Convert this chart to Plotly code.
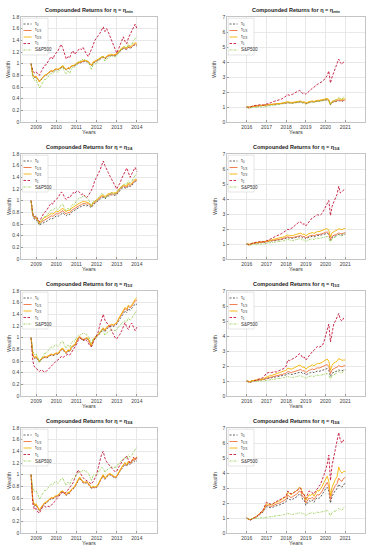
import pandas as pd
import plotly.graph_objects as go

# ---------------- dates ----------------
dates_left = pd.date_range("2008-10-01", "2014-01-01", freq="MS")   # 64 monthly points
dates_right = pd.date_range("2016-01-01", "2021-01-01", freq="MS")  # 61 monthly points

series_names = ["τ<sub>0</sub>", "τ<sub>1/3</sub>", "τ<sub>2/3</sub>", "τ<sub>1</sub>", "S&P500"]
panel_titles = ["min", "1/4", "1/2", "3/4"]
years_left = [2009, 2010, 2011, 2012, 2013, 2014]
years_right = [2016, 2017, 2018, 2019, 2020, 2021]

# ---------------- S&P500 benchmark ----------------
sp_left = [1.00, 0.77, 0.71, 0.72,
           0.66, 0.58, 0.63, 0.69, 0.73, 0.73, 0.78, 0.81, 0.84, 0.82, 0.87, 0.88,
           0.85, 0.88, 0.93, 0.94, 0.86, 0.82, 0.87, 0.83, 0.91, 0.94, 0.94, 1.00,
           1.02, 1.05, 1.05, 1.08, 1.07, 1.05, 1.03, 0.97, 0.90, 0.99, 0.99, 1.00,
           1.04, 1.08, 1.12, 1.11, 1.04, 1.08, 1.09, 1.12, 1.14, 1.12, 1.12, 1.13,
           1.19, 1.20, 1.25, 1.27, 1.29, 1.27, 1.34, 1.30, 1.33, 1.39, 1.43, 1.47]
sp_right = [1.00,
            0.90, 0.90, 0.96, 0.96, 0.98, 0.98, 1.01, 1.01, 1.01, 0.99, 1.02, 1.04,
            1.06, 1.10, 1.10, 1.11, 1.12, 1.13, 1.15, 1.15, 1.17, 1.20, 1.23, 1.25,
            1.32, 1.26, 1.23, 1.23, 1.26, 1.27, 1.31, 1.35, 1.36, 1.26, 1.29, 1.17,
            1.26, 1.30, 1.32, 1.37, 1.28, 1.37, 1.39, 1.36, 1.39, 1.42, 1.46, 1.51,
            1.50, 1.38, 1.12, 1.36, 1.42, 1.44, 1.52, 1.63, 1.57, 1.52, 1.69, 1.75]

# ---------------- left column (2008-2014) ----------------
# eta = eta_min
t0_min_L = [1.00, 0.80, 0.76, 0.77,
            0.73, 0.69, 0.72, 0.76, 0.79, 0.80, 0.83, 0.85, 0.87, 0.86, 0.89, 0.90,
            0.89, 0.91, 0.94, 0.95, 0.91, 0.89, 0.92, 0.91, 0.95, 0.96, 0.96, 0.99,
            1.00, 1.02, 1.02, 1.04, 1.04, 1.03, 1.03, 0.99, 0.96, 1.01, 1.02, 1.04,
            1.06, 1.08, 1.10, 1.11, 1.08, 1.11, 1.13, 1.13, 1.14, 1.13, 1.14, 1.15,
            1.19, 1.21, 1.24, 1.26, 1.25, 1.24, 1.28, 1.26, 1.28, 1.31, 1.32, 1.30]
t13_min_L = [1.00, 0.81, 0.77, 0.78,
             0.74, 0.70, 0.73, 0.77, 0.80, 0.81, 0.84, 0.86, 0.88, 0.87, 0.90, 0.91,
             0.90, 0.92, 0.95, 0.96, 0.92, 0.90, 0.93, 0.92, 0.96, 0.97, 0.97, 1.00,
             1.01, 1.03, 1.03, 1.05, 1.05, 1.04, 1.04, 1.00, 0.97, 1.02, 1.03, 1.05,
             1.07, 1.09, 1.11, 1.12, 1.09, 1.12, 1.14, 1.14, 1.15, 1.14, 1.15, 1.16,
             1.20, 1.22, 1.25, 1.27, 1.26, 1.25, 1.29, 1.27, 1.29, 1.32, 1.34, 1.32]
t23_min_L = [1.00, 0.80, 0.77, 0.78,
             0.73, 0.69, 0.73, 0.77, 0.80, 0.81, 0.84, 0.86, 0.88, 0.87, 0.90, 0.91,
             0.90, 0.92, 0.95, 0.97, 0.92, 0.90, 0.93, 0.92, 0.96, 0.97, 0.98, 1.01,
             1.02, 1.04, 1.04, 1.06, 1.06, 1.05, 1.04, 1.00, 0.97, 1.03, 1.04, 1.06,
             1.08, 1.10, 1.12, 1.13, 1.10, 1.13, 1.15, 1.15, 1.16, 1.15, 1.16, 1.17,
             1.21, 1.23, 1.27, 1.29, 1.28, 1.27, 1.31, 1.29, 1.31, 1.34, 1.36, 1.34]
t1_min_L = [1.00, 0.88, 0.84, 0.86,
            0.82, 0.80, 0.86, 0.92, 0.97, 0.98, 1.04, 1.08, 1.12, 1.08, 1.15, 1.18,
            1.22, 1.28, 1.33, 1.26, 1.15, 1.08, 1.12, 1.10, 1.18, 1.22, 1.16, 1.20,
            1.22, 1.26, 1.24, 1.28, 1.22, 1.16, 1.12, 1.18, 1.24, 1.32, 1.40, 1.45,
            1.48, 1.52, 1.58, 1.63, 1.55, 1.60, 1.54, 1.46, 1.38, 1.30, 1.24, 1.18,
            1.25, 1.32, 1.40, 1.46, 1.38, 1.34, 1.44, 1.50, 1.56, 1.62, 1.68, 1.60]

# eta = eta_1/4
t0_q1_L = [1.00, 0.74, 0.68, 0.68,
           0.63, 0.58, 0.60, 0.62, 0.63, 0.64, 0.66, 0.68, 0.70, 0.69, 0.72, 0.74,
           0.73, 0.75, 0.78, 0.79, 0.76, 0.74, 0.77, 0.76, 0.80, 0.82, 0.83, 0.86,
           0.87, 0.89, 0.90, 0.92, 0.92, 0.91, 0.92, 0.90, 0.88, 0.93, 0.95, 0.98,
           1.00, 1.02, 1.05, 1.06, 1.03, 1.06, 1.08, 1.08, 1.10, 1.09, 1.10, 1.10,
           1.15, 1.17, 1.21, 1.23, 1.22, 1.21, 1.26, 1.24, 1.26, 1.30, 1.33, 1.32]
t13_q1_L = [1.00, 0.75, 0.70, 0.70,
            0.65, 0.60, 0.63, 0.65, 0.67, 0.68, 0.70, 0.72, 0.74, 0.73, 0.76, 0.78,
            0.77, 0.79, 0.82, 0.83, 0.79, 0.77, 0.80, 0.79, 0.83, 0.85, 0.86, 0.89,
            0.90, 0.92, 0.93, 0.95, 0.95, 0.94, 0.95, 0.92, 0.90, 0.95, 0.97, 1.00,
            1.02, 1.04, 1.07, 1.08, 1.05, 1.08, 1.10, 1.10, 1.12, 1.11, 1.12, 1.12,
            1.17, 1.19, 1.23, 1.25, 1.24, 1.23, 1.28, 1.26, 1.28, 1.32, 1.35, 1.34]
t23_q1_L = [1.00, 0.76, 0.72, 0.72,
            0.67, 0.62, 0.66, 0.69, 0.71, 0.72, 0.74, 0.76, 0.78, 0.77, 0.80, 0.82,
            0.81, 0.83, 0.86, 0.87, 0.83, 0.81, 0.84, 0.83, 0.87, 0.89, 0.90, 0.93,
            0.94, 0.96, 0.97, 0.99, 0.98, 0.97, 0.97, 0.94, 0.92, 0.97, 0.99, 1.02,
            1.04, 1.06, 1.09, 1.10, 1.07, 1.10, 1.12, 1.12, 1.14, 1.13, 1.14, 1.14,
            1.19, 1.21, 1.25, 1.27, 1.26, 1.25, 1.30, 1.28, 1.30, 1.34, 1.37, 1.36]
t1_q1_L = [1.00, 0.78, 0.72, 0.74,
           0.68, 0.64, 0.70, 0.76, 0.80, 0.82, 0.88, 0.92, 0.96, 0.94, 1.00, 1.02,
           1.05, 1.10, 1.15, 1.12, 1.05, 1.02, 1.06, 1.05, 1.10, 1.14, 1.12, 1.16,
           1.16, 1.14, 1.10, 1.12, 1.08, 1.05, 1.08, 1.12, 1.18, 1.25, 1.35, 1.40,
           1.45, 1.52, 1.60, 1.68, 1.60, 1.55, 1.48, 1.42, 1.36, 1.30, 1.24, 1.20,
           1.26, 1.30, 1.38, 1.45, 1.50, 1.56, 1.48, 1.40, 1.46, 1.52, 1.57, 1.50]

# eta = eta_1/2
t0_q2_L = [1.00, 0.70, 0.64, 0.66,
           0.62, 0.58, 0.62, 0.64, 0.66, 0.65, 0.67, 0.68, 0.70, 0.69, 0.71, 0.72,
           0.71, 0.74, 0.79, 0.80, 0.75, 0.73, 0.77, 0.76, 0.82, 0.85, 0.86, 0.92,
           0.98, 1.00, 0.97, 0.95, 0.96, 0.98, 0.97, 0.90, 0.84, 0.94, 0.98, 1.02,
           1.04, 1.07, 1.12, 1.14, 1.10, 1.15, 1.17, 1.18, 1.20, 1.19, 1.21, 1.23,
           1.28, 1.32, 1.38, 1.42, 1.46, 1.43, 1.50, 1.47, 1.50, 1.54, 1.58, 1.57]
t13_q2_L = [1.00, 0.71, 0.65, 0.67,
            0.63, 0.59, 0.63, 0.65, 0.67, 0.66, 0.68, 0.69, 0.71, 0.70, 0.72, 0.73,
            0.72, 0.75, 0.80, 0.81, 0.76, 0.74, 0.78, 0.77, 0.83, 0.86, 0.87, 0.93,
            0.99, 1.01, 0.98, 0.96, 0.97, 0.99, 0.98, 0.91, 0.85, 0.95, 0.99, 1.03,
            1.05, 1.09, 1.14, 1.16, 1.12, 1.17, 1.19, 1.20, 1.22, 1.21, 1.23, 1.25,
            1.31, 1.35, 1.41, 1.46, 1.50, 1.47, 1.54, 1.51, 1.54, 1.59, 1.63, 1.64]
t23_q2_L = [1.00, 0.72, 0.66, 0.68,
            0.64, 0.60, 0.64, 0.66, 0.68, 0.67, 0.69, 0.70, 0.72, 0.71, 0.73, 0.74,
            0.73, 0.76, 0.81, 0.82, 0.77, 0.75, 0.79, 0.78, 0.84, 0.87, 0.88, 0.94,
            1.00, 1.02, 0.99, 0.97, 0.98, 1.00, 0.99, 0.92, 0.86, 0.96, 1.00, 1.04,
            1.06, 1.10, 1.15, 1.17, 1.13, 1.18, 1.20, 1.21, 1.23, 1.22, 1.24, 1.26,
            1.32, 1.37, 1.43, 1.48, 1.52, 1.49, 1.56, 1.53, 1.56, 1.61, 1.66, 1.68]
t1_q2_L = [1.00, 0.60, 0.50, 0.48,
           0.44, 0.42, 0.45, 0.43, 0.41, 0.42, 0.45, 0.48, 0.52, 0.55, 0.58, 0.60,
           0.62, 0.64, 0.68, 0.66, 0.68, 0.70, 0.72, 0.70, 0.74, 0.78, 0.82, 0.88,
           0.95, 1.00, 0.98, 0.96, 0.98, 0.95, 0.92, 0.86, 0.85, 0.92, 0.98, 1.02,
           1.10, 1.22, 1.32, 1.40, 1.30, 1.25, 1.22, 1.18, 1.12, 1.06, 1.00, 0.98,
           1.02, 1.06, 1.12, 1.20, 1.26, 1.18, 1.14, 1.22, 1.25, 1.18, 1.12, 1.18]

# eta = eta_3/4
t0_q3_L = [1.00, 0.55, 0.46, 0.48,
           0.42, 0.38, 0.42, 0.46, 0.50, 0.51, 0.54, 0.56, 0.59, 0.58, 0.61, 0.62,
           0.63, 0.66, 0.70, 0.70, 0.66, 0.64, 0.68, 0.68, 0.73, 0.76, 0.78, 0.84,
           0.90, 0.94, 0.90, 0.86, 0.85, 0.86, 0.84, 0.80, 0.76, 0.78, 0.77, 0.78,
           0.82, 0.88, 0.94, 0.98, 0.92, 0.96, 0.99, 1.00, 0.98, 0.95, 0.94, 0.96,
           1.02, 1.06, 1.10, 1.14, 1.18, 1.14, 1.20, 1.17, 1.20, 1.24, 1.22, 1.24]
t13_q3_L = [1.00, 0.56, 0.47, 0.49,
            0.43, 0.39, 0.43, 0.47, 0.51, 0.52, 0.55, 0.57, 0.60, 0.59, 0.62, 0.63,
            0.64, 0.67, 0.71, 0.71, 0.67, 0.65, 0.69, 0.69, 0.74, 0.77, 0.79, 0.85,
            0.91, 0.95, 0.91, 0.87, 0.86, 0.87, 0.85, 0.81, 0.77, 0.79, 0.78, 0.79,
            0.83, 0.89, 0.95, 0.99, 0.93, 0.97, 1.00, 1.01, 0.99, 0.96, 0.95, 0.97,
            1.03, 1.07, 1.12, 1.16, 1.20, 1.16, 1.22, 1.19, 1.22, 1.26, 1.25, 1.28]
t23_q3_L = [1.00, 0.57, 0.48, 0.50,
            0.44, 0.40, 0.44, 0.48, 0.52, 0.53, 0.56, 0.58, 0.61, 0.60, 0.63, 0.64,
            0.65, 0.68, 0.72, 0.72, 0.68, 0.66, 0.70, 0.70, 0.75, 0.78, 0.80, 0.86,
            0.92, 0.96, 0.92, 0.88, 0.87, 0.88, 0.86, 0.82, 0.78, 0.80, 0.79, 0.80,
            0.84, 0.90, 0.96, 1.00, 0.94, 0.98, 1.01, 1.02, 1.00, 0.97, 0.96, 0.98,
            1.04, 1.08, 1.13, 1.17, 1.21, 1.17, 1.23, 1.20, 1.23, 1.28, 1.27, 1.31]
t1_q3_L = [1.00, 0.50, 0.40, 0.42,
           0.36, 0.34, 0.40, 0.45, 0.46, 0.44, 0.46, 0.45, 0.48, 0.50, 0.54, 0.58,
           0.60, 0.64, 0.68, 0.70, 0.68, 0.70, 0.74, 0.76, 0.80, 0.86, 0.94, 1.02,
           1.08, 1.04, 0.98, 0.95, 0.92, 0.90, 0.88, 0.86, 0.84, 0.88, 0.94, 1.00,
           1.12, 1.24, 1.35, 1.40, 1.28, 1.22, 1.18, 1.15, 1.12, 1.08, 1.05, 1.06,
           1.12, 1.16, 1.22, 1.26, 1.28, 1.32, 1.25, 1.20, 1.24, 1.30, 1.26, 1.30]

# ---------------- right column (2016-2021) ----------------
# eta = eta_min
t0_min_R = [1.00,
            0.97, 0.98, 1.02, 1.03, 1.05, 1.06, 1.08, 1.08, 1.08, 1.07, 1.09, 1.11,
            1.12, 1.15, 1.15, 1.16, 1.17, 1.18, 1.20, 1.20, 1.21, 1.23, 1.25, 1.26,
            1.30, 1.27, 1.25, 1.26, 1.28, 1.29, 1.31, 1.34, 1.34, 1.28, 1.30, 1.22,
            1.27, 1.30, 1.32, 1.35, 1.31, 1.36, 1.38, 1.37, 1.39, 1.41, 1.44, 1.47,
            1.48, 1.42, 1.15, 1.30, 1.34, 1.35, 1.38, 1.42, 1.40, 1.38, 1.42, 1.42]
t13_min_R = [1.00,
             0.97, 0.99, 1.03, 1.04, 1.06, 1.07, 1.09, 1.09, 1.09, 1.08, 1.10, 1.12,
             1.13, 1.16, 1.16, 1.17, 1.18, 1.19, 1.21, 1.22, 1.23, 1.25, 1.27, 1.28,
             1.32, 1.29, 1.27, 1.28, 1.30, 1.31, 1.33, 1.36, 1.36, 1.30, 1.32, 1.24,
             1.29, 1.32, 1.34, 1.37, 1.33, 1.38, 1.41, 1.40, 1.42, 1.44, 1.47, 1.50,
             1.52, 1.45, 1.17, 1.33, 1.38, 1.39, 1.42, 1.46, 1.44, 1.42, 1.46, 1.46]
t23_min_R = [1.00,
             0.97, 0.99, 1.04, 1.05, 1.07, 1.08, 1.10, 1.10, 1.11, 1.09, 1.12, 1.14,
             1.15, 1.18, 1.18, 1.19, 1.20, 1.21, 1.23, 1.24, 1.25, 1.27, 1.30, 1.31,
             1.36, 1.32, 1.30, 1.31, 1.33, 1.34, 1.37, 1.40, 1.40, 1.33, 1.35, 1.27,
             1.33, 1.36, 1.38, 1.41, 1.37, 1.42, 1.45, 1.44, 1.46, 1.49, 1.52, 1.55,
             1.57, 1.50, 1.20, 1.38, 1.44, 1.46, 1.50, 1.55, 1.52, 1.50, 1.54, 1.55]
t1_min_R = [1.00,
            0.95, 0.98, 1.05, 1.08, 1.10, 1.12, 1.15, 1.14, 1.16, 1.12, 1.18, 1.20,
            1.22, 1.28, 1.30, 1.35, 1.38, 1.40, 1.45, 1.48, 1.52, 1.58, 1.65, 1.70,
            1.82, 1.78, 1.80, 1.85, 1.92, 1.98, 2.05, 2.10, 2.05, 1.90, 1.95, 1.85,
            1.95, 2.05, 2.15, 2.25, 2.30, 2.45, 2.50, 2.55, 2.60, 2.70, 2.80, 2.95,
            3.10, 3.40, 2.60, 3.00, 3.30, 3.60, 3.80, 4.20, 3.95, 3.85, 4.00, 4.10]

# eta = eta_1/4
t0_q1_R = [1.00,
           0.96, 0.97, 1.02, 1.03, 1.05, 1.06, 1.09, 1.09, 1.09, 1.08, 1.11, 1.13,
           1.15, 1.19, 1.19, 1.21, 1.22, 1.24, 1.26, 1.27, 1.29, 1.32, 1.35, 1.37,
           1.43, 1.39, 1.37, 1.38, 1.41, 1.43, 1.46, 1.50, 1.50, 1.42, 1.45, 1.35,
           1.42, 1.46, 1.48, 1.52, 1.47, 1.54, 1.57, 1.56, 1.58, 1.61, 1.65, 1.69,
           1.71, 1.63, 1.25, 1.45, 1.52, 1.54, 1.58, 1.64, 1.61, 1.59, 1.64, 1.66]
t13_q1_R = [1.00,
            0.96, 0.98, 1.03, 1.04, 1.06, 1.07, 1.10, 1.10, 1.11, 1.09, 1.12, 1.15,
            1.17, 1.21, 1.22, 1.24, 1.25, 1.27, 1.29, 1.31, 1.33, 1.36, 1.39, 1.41,
            1.48, 1.44, 1.42, 1.43, 1.46, 1.48, 1.52, 1.56, 1.56, 1.48, 1.51, 1.40,
            1.48, 1.52, 1.55, 1.59, 1.54, 1.61, 1.64, 1.63, 1.65, 1.69, 1.73, 1.78,
            1.80, 1.71, 1.30, 1.52, 1.60, 1.62, 1.66, 1.73, 1.70, 1.68, 1.73, 1.76]
t23_q1_R = [1.00,
            0.97, 0.99, 1.05, 1.06, 1.08, 1.10, 1.13, 1.13, 1.14, 1.12, 1.16, 1.19,
            1.21, 1.26, 1.27, 1.30, 1.32, 1.34, 1.37, 1.39, 1.42, 1.46, 1.50, 1.53,
            1.61, 1.56, 1.54, 1.56, 1.60, 1.63, 1.68, 1.73, 1.73, 1.63, 1.67, 1.55,
            1.64, 1.69, 1.72, 1.77, 1.71, 1.79, 1.83, 1.82, 1.85, 1.89, 1.95, 2.00,
            2.03, 1.92, 1.48, 1.75, 1.85, 1.88, 1.93, 2.02, 1.98, 1.96, 2.02, 2.05]
t1_q1_R = [1.00,
           0.95, 0.97, 1.04, 1.07, 1.10, 1.12, 1.15, 1.14, 1.17, 1.14, 1.20, 1.22,
           1.25, 1.32, 1.36, 1.42, 1.48, 1.52, 1.58, 1.62, 1.68, 1.75, 1.82, 1.88,
           1.98, 1.95, 2.00, 2.10, 2.20, 2.30, 2.40, 2.48, 2.45, 2.30, 2.35, 2.20,
           2.35, 2.50, 2.60, 2.75, 2.80, 2.90, 2.95, 2.92, 2.95, 3.05, 3.25, 3.50,
           3.65, 3.90, 2.90, 3.50, 3.80, 4.10, 4.30, 4.85, 4.40, 4.50, 4.60, 4.70]

# eta = eta_1/2
t0_q2_R = [1.00,
           0.96, 0.95, 1.00, 1.01, 1.03, 1.04, 1.07, 1.07, 1.08, 1.07, 1.12, 1.15,
           1.17, 1.21, 1.21, 1.23, 1.25, 1.26, 1.28, 1.30, 1.32, 1.35, 1.38, 1.41,
           1.50, 1.46, 1.44, 1.45, 1.49, 1.51, 1.55, 1.60, 1.60, 1.50, 1.53, 1.40,
           1.48, 1.53, 1.56, 1.61, 1.55, 1.63, 1.66, 1.64, 1.66, 1.70, 1.75, 1.80,
           1.82, 1.72, 1.30, 1.52, 1.60, 1.62, 1.66, 1.74, 1.70, 1.68, 1.73, 1.76]
t13_q2_R = [1.00,
            0.96, 0.95, 1.01, 1.02, 1.04, 1.06, 1.09, 1.09, 1.10, 1.09, 1.15, 1.19,
            1.21, 1.26, 1.26, 1.29, 1.31, 1.33, 1.36, 1.38, 1.41, 1.45, 1.49, 1.53,
            1.63, 1.59, 1.57, 1.59, 1.63, 1.66, 1.71, 1.77, 1.77, 1.66, 1.70, 1.56,
            1.65, 1.71, 1.75, 1.81, 1.75, 1.84, 1.88, 1.86, 1.89, 1.94, 2.00, 2.06,
            2.09, 1.97, 1.50, 1.75, 1.85, 1.88, 1.92, 2.02, 1.97, 1.95, 2.00, 2.02]
t23_q2_R = [1.00,
            0.96, 0.95, 1.02, 1.03, 1.06, 1.08, 1.12, 1.12, 1.14, 1.13, 1.20, 1.26,
            1.29, 1.35, 1.36, 1.40, 1.43, 1.46, 1.50, 1.53, 1.57, 1.62, 1.67, 1.72,
            1.86, 1.81, 1.79, 1.82, 1.87, 1.91, 1.97, 2.05, 2.04, 1.90, 1.95, 1.78,
            1.89, 1.96, 2.01, 2.08, 2.01, 2.12, 2.17, 2.15, 2.18, 2.25, 2.33, 2.42,
            2.46, 2.32, 1.72, 2.05, 2.20, 2.25, 2.32, 2.50, 2.42, 2.38, 2.40, 2.40]
t1_q2_R = [1.00,
           0.92, 0.88, 0.95, 0.98, 1.02, 1.05, 1.10, 1.12, 1.18, 1.22, 1.35, 1.52,
           1.55, 1.58, 1.56, 1.60, 1.62, 1.60, 1.65, 1.70, 1.75, 1.80, 1.85, 2.00,
           2.40, 2.35, 2.40, 2.45, 2.55, 2.60, 2.70, 2.82, 2.75, 2.55, 2.60, 2.40,
           2.55, 2.70, 2.80, 2.95, 3.05, 3.20, 3.30, 3.25, 3.28, 3.35, 3.60, 4.00,
           4.30, 4.80, 3.60, 4.30, 4.80, 5.00, 5.20, 5.50, 5.10, 5.00, 5.20, 5.30]

# eta = eta_3/4
t0_q3_R = [1.00,
           0.92, 0.88, 0.92, 0.96, 1.00, 1.08, 1.15, 1.22, 1.32, 1.40, 1.58, 1.75,
           1.72, 1.70, 1.68, 1.72, 1.78, 1.82, 1.85, 1.88, 1.92, 1.98, 2.02, 2.10,
           2.35, 2.25, 2.20, 2.25, 2.30, 2.35, 2.45, 2.60, 2.55, 2.25, 2.20, 1.85,
           2.05, 2.15, 2.10, 2.20, 2.05, 2.25, 2.35, 2.30, 2.40, 2.55, 2.75, 2.95,
           3.05, 2.80, 2.00, 2.45, 2.70, 2.85, 2.95, 3.25, 3.10, 3.05, 3.25, 3.30]
t13_q3_R = [1.00,
            0.92, 0.88, 0.92, 0.97, 1.01, 1.10, 1.18, 1.26, 1.37, 1.45, 1.65, 1.85,
            1.82, 1.79, 1.77, 1.82, 1.88, 1.93, 1.97, 2.00, 2.05, 2.11, 2.16, 2.25,
            2.52, 2.42, 2.36, 2.42, 2.48, 2.53, 2.64, 2.80, 2.75, 2.42, 2.37, 2.00,
            2.21, 2.33, 2.28, 2.39, 2.23, 2.45, 2.57, 2.52, 2.63, 2.80, 3.02, 3.25,
            3.38, 3.10, 2.22, 2.72, 3.00, 3.17, 3.30, 3.65, 3.50, 3.45, 3.65, 3.70]
t23_q3_R = [1.00,
            0.92, 0.89, 0.93, 0.98, 1.02, 1.12, 1.21, 1.30, 1.42, 1.51, 1.72, 1.95,
            1.92, 1.89, 1.87, 1.93, 2.00, 2.05, 2.10, 2.14, 2.20, 2.27, 2.33, 2.43,
            2.72, 2.62, 2.56, 2.63, 2.70, 2.76, 2.88, 3.05, 3.00, 2.64, 2.59, 2.18,
            2.42, 2.55, 2.50, 2.62, 2.45, 2.70, 2.84, 2.79, 2.92, 3.12, 3.37, 3.63,
            3.78, 3.45, 2.48, 3.05, 3.38, 3.58, 3.75, 4.40, 4.10, 4.00, 4.10, 4.10]
t1_q3_R = [1.00,
           0.90, 0.85, 0.90, 0.95, 1.00, 1.10, 1.20, 1.30, 1.45, 1.55, 1.80, 2.05,
           2.00, 1.95, 1.90, 1.95, 2.05, 2.10, 2.15, 2.20, 2.25, 2.30, 2.35, 2.45,
           2.80, 2.70, 2.60, 2.65, 2.70, 2.75, 2.85, 3.00, 2.95, 2.60, 2.55, 2.30,
           2.60, 2.80, 2.75, 2.70, 2.60, 2.80, 3.00, 3.10, 3.25, 3.50, 3.85, 4.20,
           4.60, 5.20, 3.50, 4.50, 5.00, 5.50, 6.00, 6.70, 6.20, 6.00, 6.20, 6.10]

left_panels = [
    [t0_min_L, t13_min_L, t23_min_L, t1_min_L],
    [t0_q1_L, t13_q1_L, t23_q1_L, t1_q1_L],
    [t0_q2_L, t13_q2_L, t23_q2_L, t1_q2_L],
    [t0_q3_L, t13_q3_L, t23_q3_L, t1_q3_L],
]
right_panels = [
    [t0_min_R, t13_min_R, t23_min_R, t1_min_R],
    [t0_q1_R, t13_q1_R, t23_q1_R, t1_q1_R],
    [t0_q2_R, t13_q2_R, t23_q2_R, t1_q2_R],
    [t0_q3_R, t13_q3_R, t23_q3_R, t1_q3_R],
]

# ---------------- styling ----------------
W, H = 371, 550
FONT = "Liberation Sans"
colors = ["#3a3a3a", "#f0703c", "#f5b400", "#c4153a", "#8cc63f"]
dashes = ["2px,1.5px", "solid", "solid", "2.5px,1.5px", "2px,1px,0.7px,1px"]
widths = [0.8, 0.9, 0.9, 0.9, 0.8]

col_px = [(21, 157), (227, 365)]
row_px = [(17, 122), (154, 259), (291, 396), (428, 533)]

fig = go.Figure()
layout = dict(width=W, height=H, margin=dict(l=0, r=0, t=0, b=0),
              paper_bgcolor="white", plot_bgcolor="white", showlegend=False,
              font=dict(family=FONT, size=5, color="#404040"))
annotations = []
shapes = []
label_font = dict(family=FONT, size=5.5, color="#404040")

for r in range(4):
    for c in range(2):
        n = r * 2 + 1 + c
        xa = "x" if n == 1 else f"x{n}"
        ya = "y" if n == 1 else f"y{n}"
        dates = dates_left if c == 0 else dates_right
        strat = left_panels[r] if c == 0 else right_panels[r]
        sp = sp_left if c == 0 else sp_right
        all_series = strat + [sp]
        for i, vals in enumerate(all_series):
            fig.add_trace(go.Scatter(
                x=dates, y=vals, mode="lines", name=series_names[i],
                line=dict(color=colors[i], width=widths[i], dash=dashes[i]),
                xaxis=xa, yaxis=ya, hoverinfo="skip"))

        x0p, x1p = col_px[c]
        y0p, y1p = row_px[r]
        xdom = [x0p / W, x1p / W]
        ydom = [1 - y1p / H, 1 - y0p / H]
        years = years_left if c == 0 else years_right
        if c == 0:
            xrange = ["2008-04-01", "2015-01-01"]
            yrange = [0, 1.8]
            ytv = [0, 0.2, 0.4, 0.6, 0.8, 1, 1.2, 1.4, 1.6, 1.8]
        else:
            xrange = ["2015-01-01", "2022-01-01"]
            yrange = [0, 7]
            ytv = [0, 1, 2, 3, 4, 5, 6, 7]
        axis_common = dict(showgrid=True, gridcolor="#e8e8e8", gridwidth=0.5,
                           showline=True, mirror=True, linecolor="#c4c4c4", linewidth=0.6,
                           ticks="inside", ticklen=2, tickwidth=0.5, tickcolor="#999999",
                           zeroline=False, automargin=False,
                           tickfont=dict(family=FONT, size=5, color="#404040"))
        layout["xaxis" if n == 1 else f"xaxis{n}"] = dict(
            axis_common, domain=xdom, anchor=ya, type="date", range=xrange,
            tickvals=[f"{y}-01-01" for y in years], ticktext=[str(y) for y in years])
        layout["yaxis" if n == 1 else f"yaxis{n}"] = dict(
            axis_common, domain=ydom, anchor=xa, range=yrange, tickvals=ytv,
            ticktext=[("%g" % v) for v in ytv])

        # axis titles
        annotations.append(dict(text="Years", xref="paper", yref="paper",
                                x=(xdom[0] + xdom[1]) / 2, y=1 - (y1p + 10) / H,
                                xanchor="center", yanchor="middle", showarrow=False,
                                font=label_font))
        annotations.append(dict(text="Wealth", xref="paper", yref="paper",
                                x=(x0p - 12.5) / W, y=(ydom[0] + ydom[1]) / 2,
                                xanchor="center", yanchor="middle", textangle=-90,
                                showarrow=False, font=label_font))

        # panel title
        annotations.append(dict(
            text=f"<b>Compounded Returns for η = η<sub>{panel_titles[r]}</sub></b>",
            xref="paper", yref="paper", x=(xdom[0] + xdom[1]) / 2, y=ydom[1] + 1.5 / H,
            xanchor="center", yanchor="bottom", showarrow=False,
            font=dict(family=FONT, size=5.5, color="#222222")))

        # legend box (decorative, in axis-domain coordinates)
        pw = x1p - x0p
        ph = y1p - y0p
        xd = f"{xa} domain"
        yd = f"{ya} domain"
        shapes.append(dict(type="rect", xref=xd, yref=yd,
                           x0=1.2 / pw, x1=27 / pw, y0=1 - 38 / ph, y1=1 - 1.2 / ph,
                           line=dict(color="#c8c8c8", width=0.5), fillcolor="white", layer="above"))
        for i, name in enumerate(series_names):
            yy = 1 - (7 + 6.5 * i) / ph
            shapes.append(dict(type="line", xref=xd, yref=yd,
                               x0=2.5 / pw, x1=10.5 / pw, y0=yy, y1=yy,
                               line=dict(color=colors[i], width=widths[i], dash=dashes[i]),
                               layer="above"))
            annotations.append(dict(text=name, xref=xd, yref=yd, x=11.5 / pw, y=yy,
                                    xanchor="left", yanchor="middle", showarrow=False,
                                    font=dict(family=FONT, size=4.5, color="#303030")))

layout["annotations"] = annotations
layout["shapes"] = shapes
fig.update_layout(**layout)
fig.write_html("out.html",
               config={"displayModeBar": False},
               post_script="document.body.style.margin='0';document.body.style.padding='0';")
